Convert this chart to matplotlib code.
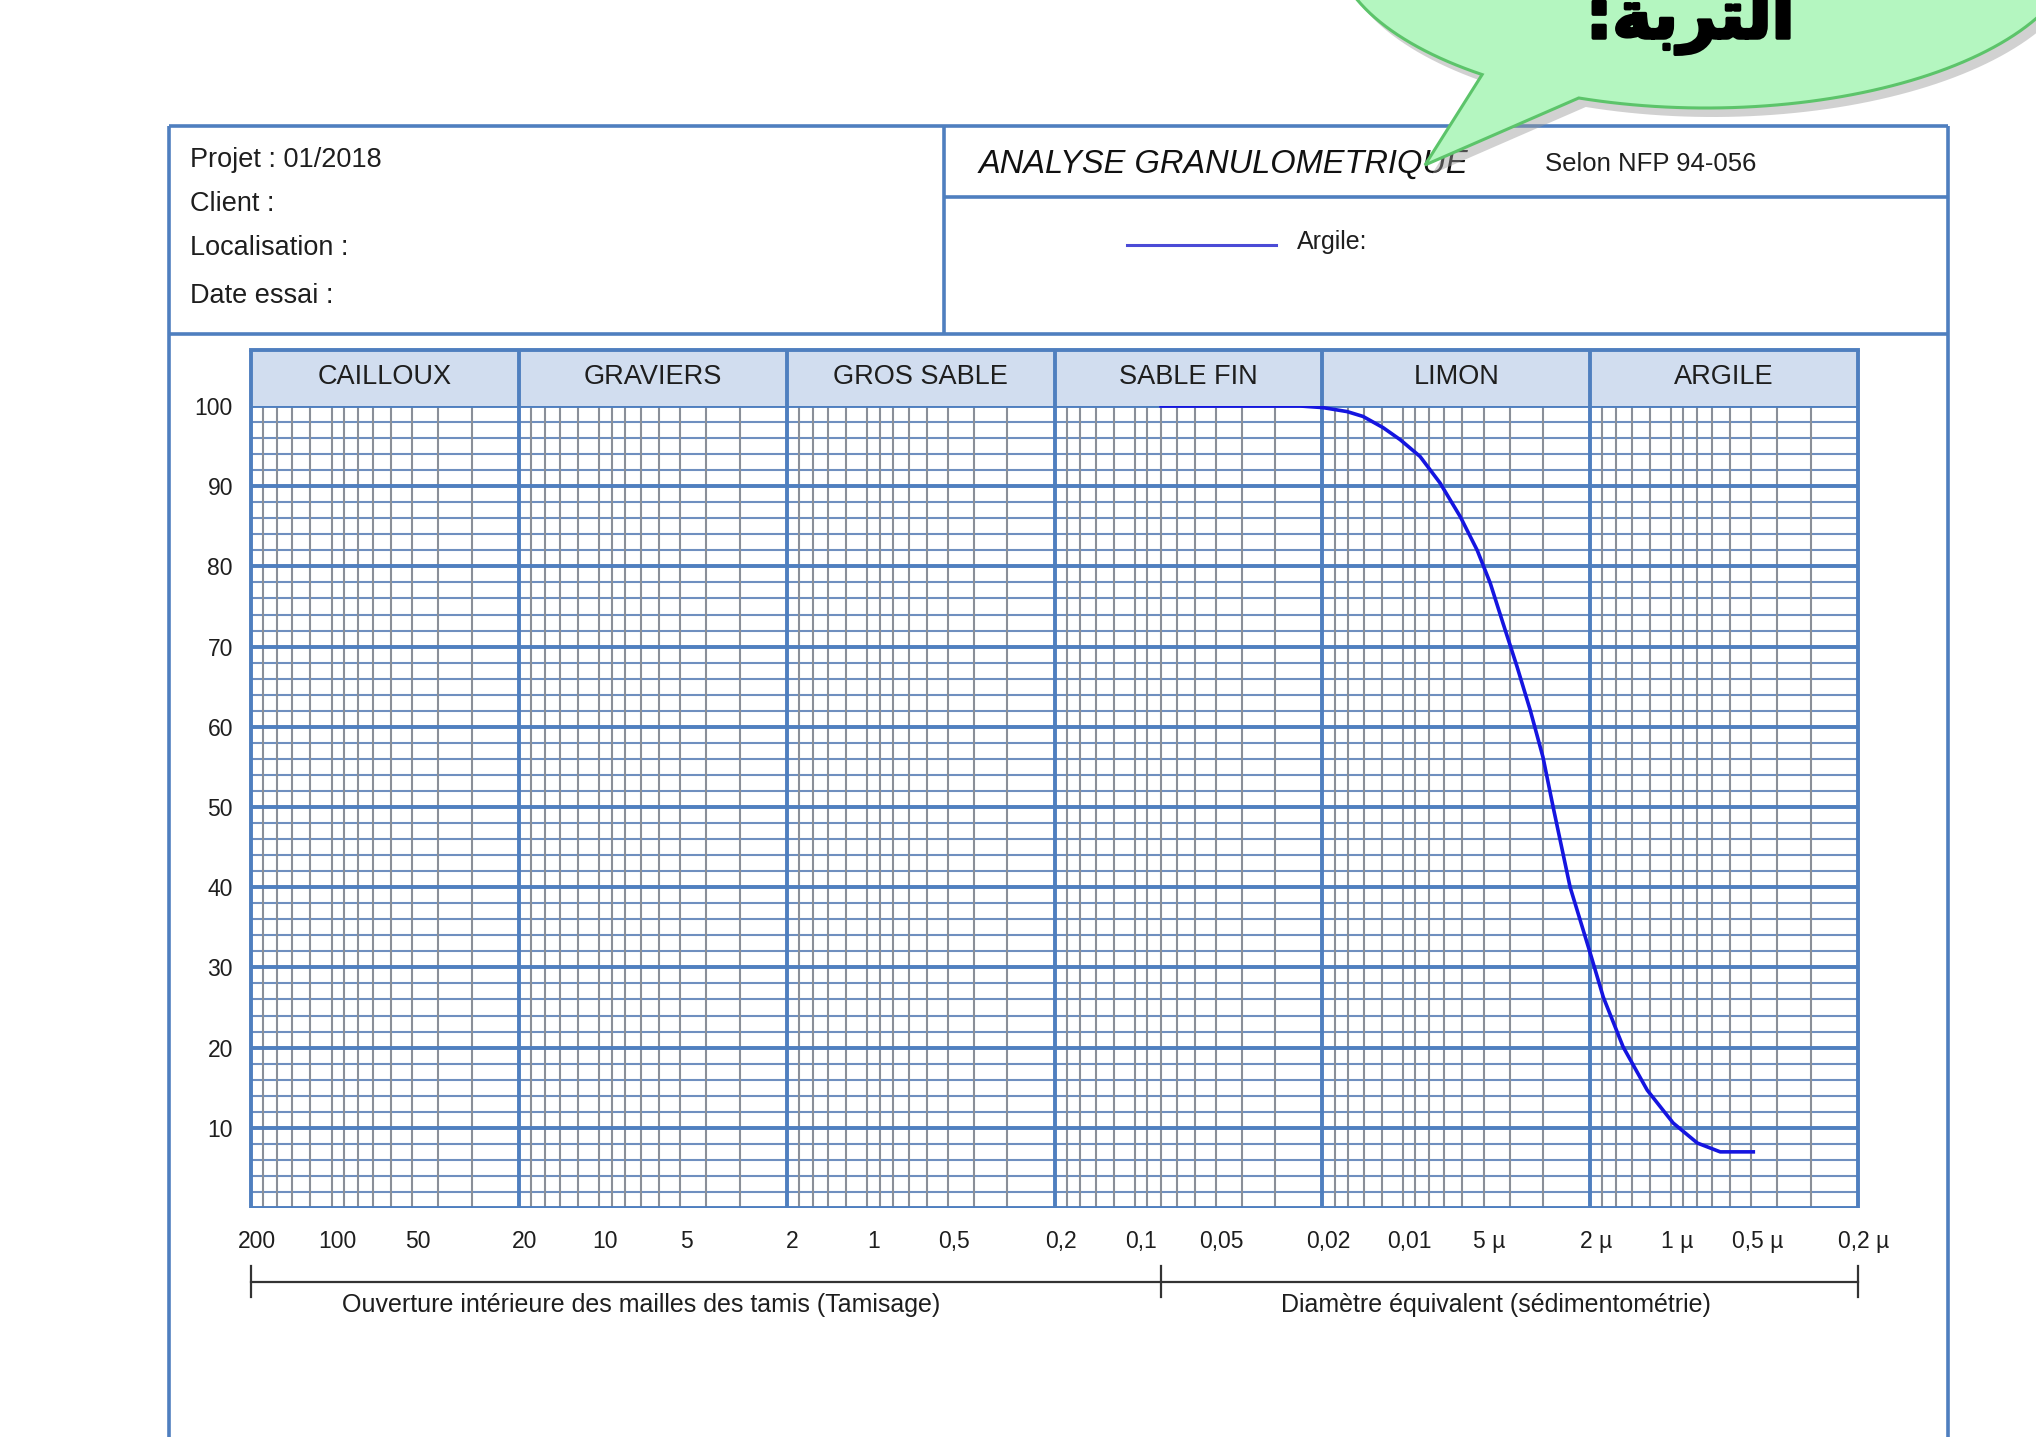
import numpy as np
import matplotlib.pyplot as plt
from matplotlib.patches import Polygon
import matplotlib.patheffects as pe
import matplotlib.transforms as mtransforms

# grain size curve : passing (%) against diameter (mm)
diam_mm = [0.08, 0.05, 0.03, 0.0242, 0.0199, 0.01615, 0.0141, 0.01186, 0.01024,
           0.00863, 0.00727, 0.00611, 0.00528, 0.00472, 0.00423, 0.00375,
           0.00335, 0.00300, 0.00275, 0.002376, 0.0020, 0.001787, 0.001507,
           0.001225, 0.00098, 0.000796, 0.000654, 0.000492]
passing = [100, 100, 100, 100, 99.8, 99.3, 98.7, 97.3, 95.8,
           93.7, 90.4, 86.2, 82.0, 77.9, 72.9, 67.5,
           62.1, 56.2, 50.0, 40.0, 31.8, 26.3, 20.1,
           14.7, 10.6, 8.1, 7.0, 7.0]

class_bounds = [200, 20, 2, 0.2, 0.02, 0.002, 0.0002]
class_names = ['CAILLOUX', 'GRAVIERS', 'GROS SABLE', 'SABLE FIN', 'LIMON', 'ARGILE']

tick_vals = [200, 100, 50, 20, 10, 5, 2, 1, 0.5, 0.2, 0.1, 0.05, 0.02, 0.01,
             0.005, 0.002, 0.001, 0.0005, 0.0002]
tick_text = ['200', '100', '50', '20', '10', '5', '2', '1', '0,5', '0,2', '0,1',
             '0,05', '0,02', '0,01', '5 µ', '2 µ', '1 µ', '0,5 µ', '0,2 µ']

# minor grid inside each decade (multiples of the lower bound)
minor_mult = [1.5, 2, 2.5, 3, 3.5, 4, 4.5, 5, 6, 7, 8, 9]
sieve_limit = 0.08

FONT = ['Liberation Sans', 'DejaVu Sans']
BLUE = '#4f7fbf'
GRID_MINOR_H = '#6f8fbf'
GRID_MINOR_V = '#8a8f98'
W, H = 2036, 1437

fig = plt.figure(figsize=(W / 100, H / 100), dpi=100)
fig.patch.set_facecolor('white')

# ---- background layer in pixel coordinates (form frame, header, bubble)
bg = fig.add_axes([0, 0, 1, 1])
bg.set_xlim(0, W)
bg.set_ylim(H, 0)
bg.axis('off')

frame = dict(color=BLUE, lw=2.6, solid_capstyle='butt')
bg.plot([169, 1948], [126, 126], **frame)
bg.plot([169, 169], [126, H], **frame)
bg.plot([1948, 1948], [126, H], **frame)
bg.plot([169, 1948], [334, 334], **frame)
bg.plot([944, 944], [126, 334], **frame)
bg.plot([944, 1948], [197, 197], **frame)

for y, txt in zip([160, 204, 248, 296],
                  ['Projet : 01/2018', 'Client :', 'Localisation :', 'Date essai :']):
    bg.text(190, y, txt, family=FONT, fontsize=19.5, va='center', ha='left', color='#1e1e1e')

bg.text(979, 164, 'ANALYSE GRANULOMETRIQUE', family=FONT, fontsize=23.5, style='italic',
        va='center', ha='left', color='#111111')
bg.text(1545, 164, 'Selon NFP 94-056', family=FONT, fontsize=18.5, va='center', ha='left',
        color='#1e1e1e')
bg.plot([1127, 1276], [245, 245], color='#4b4bd6', lw=2.2)
bg.text(1297, 242, 'Argile:', family=FONT, fontsize=18, va='center', ha='left', color='#1e1e1e')

# speech bubble (ellipse + tail), partly cut by the top of the page
cx, cy, a, b = 1706, -58, 372, 166
t = np.radians(np.linspace(127, 470, 200))
pts = np.column_stack([cx + a * np.cos(t), cy + b * np.sin(t)])
pts = np.vstack([pts, [1425, 165]])
shadow = Polygon(pts + [7, 9], closed=True, facecolor='#9a9a9a', edgecolor='none',
                 alpha=0.45, zorder=5)
bubble = Polygon(pts, closed=True, facecolor='#b4f6c0', edgecolor='#5cc46a', lw=2.2,
                 zorder=6)
bg.add_patch(shadow)
bg.add_patch(bubble)
arabic = ':' + '\uFE94\uFE91\uFEAE\uFE98\uFEDF\uFE8D'
bg.text(1690, 38, arabic, family=['DejaVu Sans'], fontsize=48, weight='bold',
        ha='center', va='baseline', color='black', zorder=7,
        path_effects=[pe.withStroke(linewidth=2.5, foreground='black')])

# ---- chart
ax = fig.add_axes([251 / W, 1 - 1208 / H, 1607 / W, 802 / H])
ax.set_xscale('log')
ax.set_xlim(class_bounds[0], class_bounds[-1])
ax.set_ylim(0, 100)
for s in ax.spines.values():
    s.set_visible(False)

# horizontal grid
for v in range(0, 101, 2):
    if v % 10 == 0:
        ax.axhline(v, color=BLUE, lw=2.8, zorder=2)
    else:
        ax.axhline(v, color=GRID_MINOR_H, lw=1.5, zorder=1)

# vertical grid
for lo in class_bounds[1:]:
    for m in minor_mult:
        ax.axvline(lo * m, color=GRID_MINOR_V, lw=1.5, zorder=1)
for bnd in class_bounds:
    ax.plot([bnd, bnd], [0, 107], color=BLUE, lw=2.8, zorder=3, clip_on=False,
            solid_capstyle='butt')

# class header band
for lo, hi, name in zip(class_bounds[:-1], class_bounds[1:], class_names):
    ax.fill_between([lo, hi], 100, 107, color='#d1ddef', lw=0, clip_on=False, zorder=1)
    ax.text(np.sqrt(lo * hi), 103.6, name, family=FONT, fontsize=19.5, ha='center',
            va='center', color='#1e1e1e')
ax.plot([class_bounds[0], class_bounds[-1]], [107, 107], color=BLUE, lw=2.8,
        clip_on=False, zorder=3)

# curve
ax.plot(diam_mm, passing, color='#1515e0', lw=2.6, zorder=4)

# ticks
ax.set_xticks(tick_vals)
ax.set_xticklabels(tick_text, family=FONT, fontsize=16.5, color='#1e1e1e')
ax.set_xticks([], minor=True)
ax.set_yticks(range(10, 101, 10))
ax.set_yticklabels([str(v) for v in range(10, 101, 10)], family=FONT, fontsize=16.5,
                   color='#1e1e1e')
ax.tick_params(axis='x', length=0, pad=16)
ax.tick_params(axis='y', length=0, pad=13)
shift = mtransforms.ScaledTranslation(0.06, 0, fig.dpi_scale_trans)
for lab in ax.get_xticklabels():
    lab.set_transform(lab.get_transform() + shift)

# bracket under the axis
ax.plot([class_bounds[0], class_bounds[-1]], [-9.2, -9.2], color='#333333', lw=1.6,
        clip_on=False)
for xb in [class_bounds[0], sieve_limit, class_bounds[-1]]:
    ax.plot([xb, xb], [-7.2, -11.1], color='#333333', lw=1.6, clip_on=False)
ax.text(7.0, -12.1, 'Ouverture intérieure des mailles des tamis (Tamisage)', family=FONT,
        fontsize=18, ha='center', va='center', color='#1e1e1e')
ax.text(0.0045, -12.1, 'Diamètre équivalent (sédimentométrie)', family=FONT,
        fontsize=18, ha='center', va='center', color='#1e1e1e')

fig.savefig('out.png', dpi=100)
